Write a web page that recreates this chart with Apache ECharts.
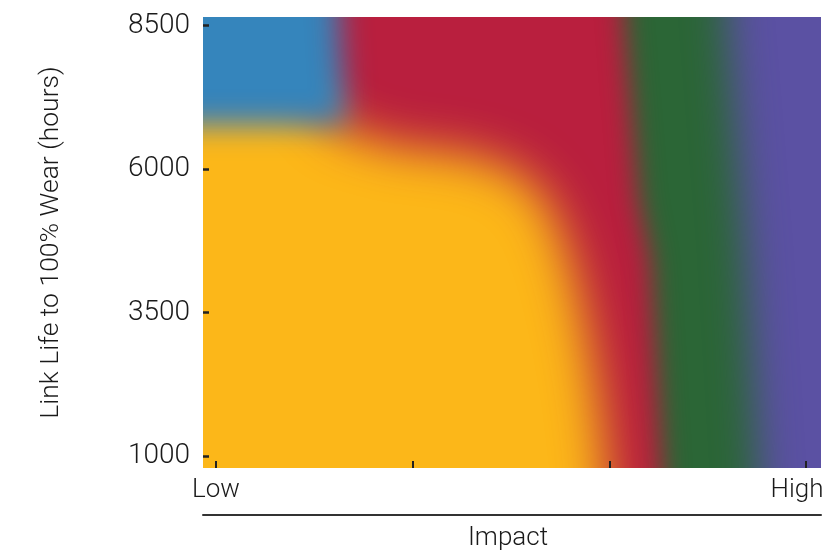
<!DOCTYPE html>
<html><head><meta charset="utf-8">
<script src="https://cdn.jsdelivr.net/npm/echarts@6/dist/echarts.min.js"></script>
<style>html,body{margin:0;padding:0;background:#fff}#c{width:830px;height:557px}</style>
</head><body><div id="c"></div>
<script>
// Axis ticks
const yTickValues = [1000, 3500, 6000, 8500];
const xTickValues = [0, 1, 2, 3];
const xTickLabels = { 0: 'Low', 3: 'High' };

// Region outlines in data units (x: impact index 0 = Low .. 3 = High, y: hours),
// read from the picture; drawn back to front.
const regionNames = ['purple', 'green', 'red', 'yellow', 'blue'];
const regionColors = ['#5b51a3', '#2b6636', '#b91f3e', '#fcb719', '#3585bc'];
const regionBlur = [0, 40, 26, 48, 30];
const purpleRegion = [[-1, -1500], [4, -1500], [4, 11000], [-1, 11000]];
const greenRegion = [[-1, 11000], [2.58, 11000], [2.595, 8650], [2.69, 4590], [2.755, 790], [2.765, -1500], [-1, -1500]];
const redRegion = [[-1, 11000], [2.06, 11000], [2.075, 8650], [2.15, 5460], [2.21, 4410], [2.27, 790], [2.28, -1500], [-1, -1500]];
const yellowRegion = [[-1, 7400], [0.45, 7400], [0.63, 6690], [0.935, 6380], [1.19, 6300], [1.393, 6150],
  [1.545, 5920], [1.673, 5500], [1.759, 4851], [1.83, 4067], [1.895, 3021], [1.945, 1975],
  [1.985, 790], [2.0, -1500], [-1, -1500]];
const blueRegion = [[-1, 11000], [0.62, 11000], [0.625, 8650], [0.66, 6770], [-1, 6770]];
const regionPolys = [purpleRegion, greenRegion, redRegion, yellowRegion, blueRegion];

const FONT = "Roboto, 'DejaVu Sans Condensed', sans-serif";
const OFF = 3000;

const chart = echarts.init(document.getElementById('c'), null, { renderer: 'canvas' });
chart.setOption({
  animation: false,
  grid: { left: 203, top: 17, right: 9, bottom: 89, containLabel: false, outerBoundsMode: 'none' },
  xAxis: [{
    type: 'value', min: -0.066, max: 3.076, z: 10,
    axisLine: { show: false, onZero: false },
    splitLine: { show: false },
    axisTick: { show: true, inside: true, length: 7, customValues: xTickValues, lineStyle: { color: '#222', width: 2 } },
    axisLabel: {
      customValues: [0, 3], margin: 9, fontFamily: FONT, fontWeight: 300, fontSize: 26, color: '#1a1a1a',
      formatter: v => v === 3 ? '{r|' + xTickLabels[v] + '}' : (xTickLabels[v] || ''),
      rich: { r: { fontFamily: FONT, fontWeight: 300, fontSize: 26, color: '#1a1a1a', padding: [0, 18, 0, 0] } }
    }
  }, {
    type: 'value', min: -0.066, max: 3.076, position: 'bottom', offset: 47,
    axisLine: { show: true, onZero: false, lineStyle: { color: '#333', width: 2 } },
    axisTick: { show: false }, axisLabel: { show: false }, splitLine: { show: false },
    name: 'Impact', nameLocation: 'middle', nameGap: 10,
    nameTextStyle: { fontFamily: FONT, fontWeight: 300, fontSize: 26, color: '#1a1a1a', padding: [0, 8, 0, 0] }
  }],
  yAxis: {
    type: 'value', min: 790, max: 8650, z: 10,
    axisLine: { show: false, onZero: false },
    splitLine: { show: false },
    axisTick: { show: true, inside: true, length: 6, customValues: yTickValues, lineStyle: { color: '#222', width: 2.5 } },
    axisLabel: { customValues: yTickValues, margin: 13, fontFamily: FONT, fontWeight: 300, fontSize: 28, color: '#1a1a1a',
      formatter: v => String(v) },
    name: 'Link Life to 100% Wear (hours)', nameLocation: 'middle', nameGap: 138,
    nameTextStyle: { fontFamily: FONT, fontWeight: 300, fontSize: 26.5, color: '#1a1a1a' }
  },
  series: [{
    type: 'custom',
    coordinateSystem: 'cartesian2d',
    clip: true,
    silent: true,
    z: 1,
    data: regionNames.map((n, i) => ({ name: n, value: [i] })),
    renderItem: (params, api) => {
      const i = params.dataIndex;
      const pts = regionPolys[i].map(p => api.coord(p));
      const blur = regionBlur[i];
      if (!blur) {
        return { type: 'polygon', shape: { points: pts }, style: { fill: regionColors[i] } };
      }
      return {
        type: 'polygon',
        shape: { points: pts.map(p => [p[0] - OFF, p[1]]) },
        style: { fill: regionColors[i], shadowBlur: blur, shadowColor: regionColors[i], shadowOffsetX: OFF }
      };
    }
  }]
});
</script></body></html>
